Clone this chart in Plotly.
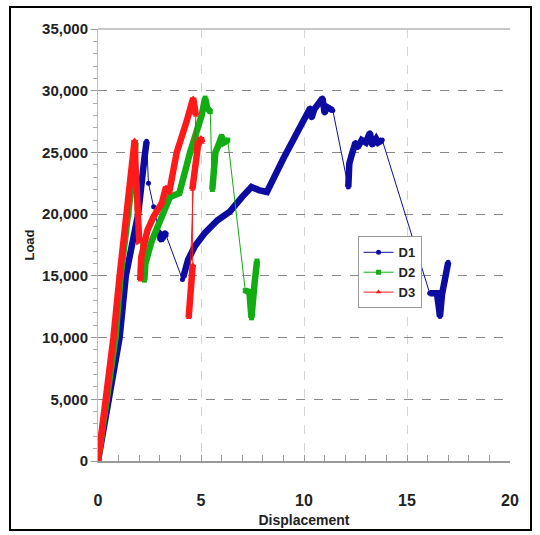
import plotly.graph_objects as go

# ---- data ----
d1_disp = [0, 0.55, 1.05, 1.35, 1.95, 2.25, 2.36,
           2.45, 2.7,
           2.95, 3.05, 3.15, 3.25, 3.3,
           4.1, 4.14, 4.37, 4.7, 5.2, 5.8, 6.4, 7.0, 7.45, 7.8, 8.2, 9.0, 9.7, 10.2, 10.3, 10.37, 10.5, 10.9, 11.0, 11.1, 11.25, 11.4,
           12.15, 12.2, 12.35, 12.5, 12.6, 12.8, 13.0, 13.2, 13.3, 13.5, 13.6, 13.8,
           16.1, 16.45, 16.55, 16.6, 16.7, 16.85, 17.0]
d1_load = [0, 5000, 10000, 15000, 20000, 24500, 25900,
           22500, 20600,
           18600, 17900, 18100, 18500, 18300,
           14700, 14900, 16300, 17400, 18500, 19500, 20200, 21400, 22200, 21950, 21800, 24500, 26800, 28300, 28600, 27800, 28500, 29400, 28200, 28700, 28600, 28400,
           22200, 24100, 25000, 25800, 25400, 26000, 25800, 26600, 25600, 26100, 25800, 26000,
           13600, 13600, 12400, 11700, 13500, 14600, 16100]
d1_dense = [(0, 6), (9, 13), (15, 35), (36, 47), (48, 54)]

d2_disp = [0, 0.45, 0.85, 1.1, 1.5, 1.75, 1.82,
           1.88, 1.9,
           2.25, 2.3, 2.6, 2.9, 3.2, 3.5, 3.95, 4.47, 5.03, 5.2, 5.3, 5.45,
           5.55, 5.6, 5.7, 5.85, 6.0, 6.1, 6.3,
           7.15, 7.35, 7.45, 7.5, 7.6, 7.72]
d2_load = [0, 5000, 10000, 15000, 20000, 24000, 25800,
           22300, 20500,
           14650, 16000, 17800, 19000, 20500, 21400, 21700, 25000, 28000, 29400, 28600, 28300,
           22000, 23500, 25000, 25600, 26300, 25800, 26000,
           13800, 13700, 11600, 13400, 14400, 16200]
d2_dense = [(0, 6), (9, 20), (21, 27), (28, 33)]

d3_disp = [0, 0.4, 0.75, 1.05, 1.4, 1.65, 1.78,
           1.82, 1.85, 1.9, 1.95, 2.0, 2.1,
           2.05, 2.1, 2.4, 2.7, 3.1, 3.3, 3.45, 3.82, 4.3, 4.62, 4.7, 4.75,
           4.4, 4.45, 4.5, 4.6,
           4.58, 4.7, 4.85, 5.0, 5.05]
d3_load = [0, 5000, 10000, 15000, 20000, 24000, 26000,
           24000, 22300, 20500, 18500, 17900, 18000,
           14650, 16500, 18700, 19800, 20900, 22200, 21700, 25000, 27500, 29400, 28600, 28000,
           11600, 13000, 14500, 15900,
           22000, 24000, 25500, 26200, 25800]
d3_dense = [(0, 12), (13, 24), (25, 28), (29, 33)]

series = [
    ("D1", d1_disp, d1_load, d1_dense, "#0c0ca0", "circle"),
    ("D2", d2_disp, d2_load, d2_dense, "#12ad12", "square"),
    ("D3", d3_disp, d3_load, d3_dense, "#ff1a1a", "triangle-up"),
]

FONT = "Liberation Sans, Arial"

fig = go.Figure()
for name, xs, ys, dense, color, sym in series:
    fig.add_trace(go.Scatter(
        x=xs, y=ys, name=name, legendgroup=name, mode="lines+markers",
        line=dict(color=color, width=1),
        marker=dict(color=color, size=5, symbol=sym),
    ))
    for a, b in dense:
        fig.add_trace(go.Scatter(
            x=xs[a:b + 1], y=ys[a:b + 1], legendgroup=name, showlegend=False,
            mode="lines", line=dict(color=color, width=6.5), hoverinfo="skip",
        ))

fig.update_layout(
    width=540, height=535,
    margin=dict(l=98, r=30, t=29, b=74),
    paper_bgcolor="white", plot_bgcolor="white",
    showlegend=True,
    legend=dict(x=0.63, y=0.52, xanchor="left", yanchor="top",
                bgcolor="white", bordercolor="#999", borderwidth=1,
                font=dict(family=FONT, size=13, color="#222", weight="bold"),
                itemwidth=30, tracegroupgap=0),
    xaxis=dict(range=[0, 20], dtick=5, tick0=0, automargin=False,
               showline=True, linecolor="#999", linewidth=2,
               ticks="inside", ticklen=6, tickcolor="#999",
               minor=dict(dtick=1, ticks="inside", ticklen=6, tickcolor="#999", showgrid=False),
               showgrid=True, gridcolor="#d4d4d4", griddash="dash", gridwidth=1,
               zeroline=False,
               tickfont=dict(family=FONT, size=16, color="#222", weight="bold"),
               ticklabelstandoff=24,
               title=dict(text="Displacement", standoff=7,
                          font=dict(family=FONT, size=14, color="#222", weight="bold"))),
    yaxis=dict(range=[0, 35000], dtick=5000, tickformat=",d", automargin=False,
               showline=True, linecolor="#bbb", linewidth=1,
               ticks="outside", ticklen=6, tickcolor="#999",
               minor=dict(dtick=1000, ticks="outside", ticklen=4, tickcolor="#aaa", showgrid=False),
               showgrid=True, gridcolor="#888", griddash="dash", gridwidth=1,
               zeroline=False,
               tickfont=dict(family=FONT, size=15, color="#222", weight="bold"),
               title=dict(text="Load", standoff=4,
                          font=dict(family=FONT, size=13, color="#222", weight="bold"))),
    shapes=[
        dict(type="line", xref="paper", yref="paper", x0=0, x1=1, y0=1, y1=1,
             line=dict(color="#c8c8c8", width=2)),
        dict(type="rect", xref="paper", yref="paper", x0=-0.2136, x1=1.051, y0=-0.1597, y1=1.051,
             line=dict(color="black", width=2)),
    ],
)

fig.write_html("out.html", config={"displayModeBar": False},
               post_script="document.body.style.margin='0';")
